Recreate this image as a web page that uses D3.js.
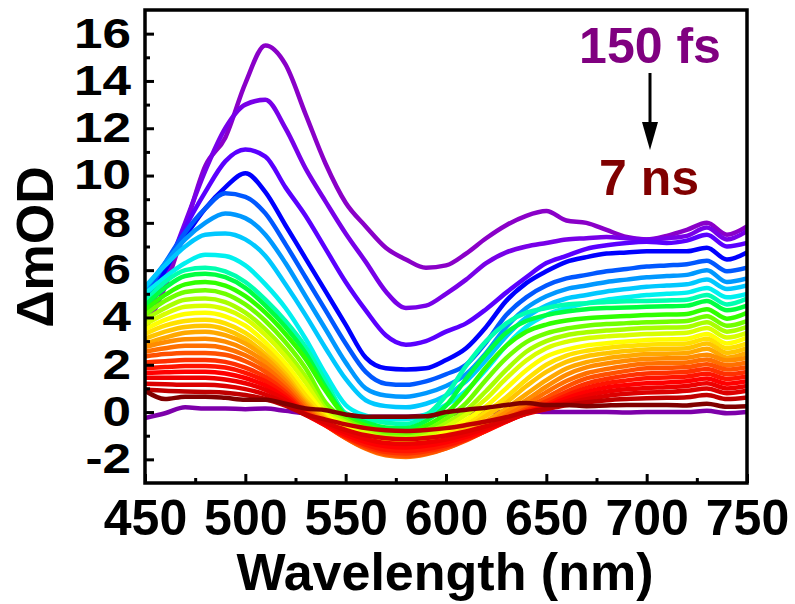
<!DOCTYPE html>
<html>
<head>
<meta charset="utf-8">
<script src="https://cdn.jsdelivr.net/npm/d3@7"></script>
<style>
  body { margin: 0; background: #fff; }
  svg { display: block; font-family: "Liberation Sans", Arial, sans-serif; font-weight: bold; }
</style>
</head>
<body>
<div id="chart"></div>
<script>
// probe wavelengths (nm), shared by every trace
var wavelengths = [450, 460, 470, 480, 490, 500, 510, 520, 530, 540, 550, 560, 570, 580, 590, 600,
                   610, 620, 630, 640, 650, 660, 670, 680, 690, 700, 710, 720, 730, 740, 750];

var xTicks = [450, 500, 550, 600, 650, 700, 750];
var xMinorTicks = [475, 525, 575, 625, 675, 725];
var yTicks = [-2, 0, 2, 4, 6, 8, 10, 12, 14, 16];
var yMinorTicks = [-1, 1, 3, 5, 7, 9, 11, 13, 15];
var firstDelay = "150 fs";
var lastDelay = "7 ns";

// ΔmOD traces, earliest (150 fs) to latest (7 ns); tracePre is the flat one near zero
var tracePre = [-0.25, -0.05, 0.2, 0.15, 0.15, 0.12, 0.15, 0.05, -0.05, -0.1, -0.15, -0.2, -0.2, -0.2, -0.15, -0.1, -0.05, 0.0, 0.0, 0.05, 0.0, 0.0, 0.0, 0.0, -0.02, 0.0, 0.0, 0.0, 0.05, -0.05, 0.0];
var trace01 = [3.5, 5.3, 7.8, 10.4, 11.6, 13.9, 15.5, 14.7, 12.6, 10.5, 8.85, 7.85, 6.95, 6.45, 6.1, 6.2, 6.7, 7.35, 7.9, 8.3, 8.5, 8.1, 8.0, 7.7, 7.4, 7.3, 7.45, 7.7, 8.0, 7.5, 7.85];
var trace02 = [3.9, 5.8, 8.0, 10.2, 12.0, 13.0, 13.2, 12.0, 10.3, 8.9, 7.55, 6.35, 5.1, 4.4, 4.5, 5.0, 5.6, 6.3, 6.75, 7.0, 7.15, 7.3, 7.35, 7.4, 7.35, 7.3, 7.35, 7.45, 7.8, 7.3, 7.65];
var trace03 = [4.2, 6.0, 7.8, 9.3, 10.6, 11.1, 10.8, 9.5, 8.3, 6.9, 5.5, 4.3, 3.25, 2.85, 3.0, 3.4, 3.75, 4.35, 5.05, 5.7, 6.3, 6.6, 6.9, 7.05, 7.15, 7.2, 7.15, 7.25, 7.5, 7.0, 7.15];
var trace04 = [4.5, 6.0, 7.4, 8.6, 9.5, 10.1, 9.3, 7.9, 6.5, 5.1, 3.7, 2.3, 1.85, 1.8, 1.85, 2.2, 2.7, 3.6, 4.7, 5.45, 5.95, 6.35, 6.55, 6.7, 6.75, 6.8, 6.8, 6.8, 6.95, 6.45, 6.75];
var trace05 = [4.9, 6.3, 7.6, 8.6, 9.25, 9.1, 8.4, 7.1, 5.7, 4.3, 2.9, 1.7, 1.2, 1.15, 1.3, 1.6, 2.0, 2.95, 4.1, 4.85, 5.35, 5.65, 5.8, 5.95, 6.05, 6.15, 6.2, 6.25, 6.4, 5.95, 6.1];
var trace06 = [5.2, 6.3, 7.3, 8.0, 8.4, 8.2, 7.5, 6.3, 4.9, 3.5, 2.1, 1.0, 0.7, 0.65, 0.8, 1.1, 1.6, 2.5, 3.6, 4.4, 4.9, 5.2, 5.35, 5.5, 5.6, 5.7, 5.75, 5.8, 6.0, 5.5, 5.65];
var trace07 = [5.3, 6.2, 7.0, 7.5, 7.55, 7.3, 6.6, 5.4, 4.1, 2.7, 1.4, 0.5, 0.25, 0.2, 0.35, 0.7, 1.3, 2.2, 3.2, 4.0, 4.5, 4.8, 4.95, 5.1, 5.2, 5.3, 5.35, 5.4, 5.6, 5.2, 5.35];
var trace08 = [5.0, 5.7, 6.3, 6.65, 6.6, 6.2, 5.4, 4.4, 3.1, 1.6, 0.3, -0.15, -0.3, -0.3, -0.1, 0.3, 0.9, 1.8, 2.8, 3.6, 4.1, 4.4, 4.6, 4.75, 4.85, 4.95, 5.0, 5.05, 5.25, 4.85, 5.0];
var trace09 = [4.7, 5.5, 6.0, 6.1, 5.95, 5.5, 4.75, 3.85, 2.75, 1.3, -0.05, -0.3, -0.45, -0.5, -0.15, 0.7, 1.95, 3.0, 3.75, 4.2, 4.4, 4.55, 4.6, 4.65, 4.68, 4.7, 4.72, 4.75, 4.95, 4.55, 4.8];
var trace10 = [4.5, 5.25, 5.75, 5.85, 5.7, 5.25, 4.5, 3.6, 2.5, 1.05, -0.14, -0.44, -0.65, -0.69, -0.38, 0.27, 1.4, 2.45, 3.35, 3.85, 4.1, 4.25, 4.35, 4.4, 4.42, 4.45, 4.47, 4.5, 4.7, 4.3, 4.5];
var trace11 = [4.3, 4.95, 5.4, 5.5, 5.35, 4.9, 4.2, 3.3, 2.25, 0.9, -0.2, -0.56, -0.79, -0.84, -0.58, -0.06, 0.82, 1.9, 2.8, 3.4, 3.7, 3.87, 3.97, 4.02, 4.06, 4.1, 4.12, 4.15, 4.35, 3.95, 4.2];
var trace12 = [4.1, 4.7, 5.08, 5.15, 5.0, 4.55, 3.85, 2.95, 1.85, 0.4, -0.31, -0.69, -0.94, -0.99, -0.77, -0.29, 0.38, 1.37, 2.28, 2.96, 3.33, 3.53, 3.65, 3.72, 3.76, 3.8, 3.82, 3.85, 4.05, 3.65, 3.85];
var trace13 = [3.9, 4.4, 4.75, 4.8, 4.65, 4.2, 3.5, 2.6, 1.5, 0.15, -0.41, -0.8, -1.04, -1.09, -0.9, -0.48, 0.07, 0.89, 1.78, 2.55, 3.0, 3.25, 3.37, 3.45, 3.5, 3.55, 3.57, 3.6, 3.8, 3.4, 3.6];
var trace14 = [3.7, 4.15, 4.45, 4.5, 4.35, 3.95, 3.25, 2.35, 1.25, 0.0, -0.48, -0.88, -1.14, -1.2, -1.02, -0.63, -0.11, 0.56, 1.42, 2.18, 2.7, 2.97, 3.12, 3.2, 3.25, 3.3, 3.32, 3.35, 3.55, 3.15, 3.35];
var trace15 = [3.5, 3.9, 4.15, 4.2, 4.05, 3.65, 2.95, 2.05, 0.95, -0.11, -0.61, -1.03, -1.28, -1.35, -1.19, -0.83, -0.33, 0.24, 1.0, 1.77, 2.35, 2.64, 2.82, 2.91, 2.98, 3.05, 3.07, 3.1, 3.3, 2.9, 3.15];
var trace16 = [3.3, 3.65, 3.85, 3.9, 3.75, 3.35, 2.7, 1.8, 0.7, -0.22, -0.73, -1.13, -1.38, -1.45, -1.31, -0.99, -0.53, 0.0, 0.63, 1.37, 2.0, 2.39, 2.59, 2.71, 2.79, 2.85, 2.87, 2.9, 3.1, 2.7, 2.9];
var trace17 = [3.1, 3.4, 3.6, 3.65, 3.5, 3.1, 2.45, 1.6, 0.5, -0.28, -0.81, -1.23, -1.48, -1.55, -1.42, -1.11, -0.68, -0.16, 0.4, 1.09, 1.7, 2.12, 2.36, 2.49, 2.58, 2.65, 2.67, 2.7, 2.9, 2.5, 2.7];
var trace18 = [2.9, 3.15, 3.35, 3.4, 3.25, 2.9, 2.3, 1.45, 0.4, -0.36, -0.92, -1.36, -1.63, -1.7, -1.58, -1.29, -0.88, -0.38, 0.15, 0.76, 1.35, 1.84, 2.11, 2.27, 2.37, 2.45, 2.47, 2.5, 2.68, 2.3, 2.5];
var trace19 = [2.75, 2.95, 3.08, 3.1, 2.98, 2.65, 2.1, 1.3, 0.3, -0.45, -1.03, -1.5, -1.78, -1.85, -1.73, -1.46, -1.05, -0.55, 0.0, 0.5, 1.08, 1.58, 1.89, 2.05, 2.17, 2.25, 2.27, 2.3, 2.42, 2.18, 2.3];
var trace20 = [2.55, 2.7, 2.8, 2.8, 2.7, 2.4, 1.9, 1.15, 0.2, -0.51, -1.1, -1.55, -1.83, -1.9, -1.79, -1.54, -1.16, -0.69, -0.16, 0.31, 0.84, 1.31, 1.64, 1.82, 1.95, 2.05, 2.07, 2.1, 2.22, 1.98, 2.1];
var trace21 = [2.35, 2.45, 2.5, 2.5, 2.42, 2.15, 1.7, 1.0, 0.1, -0.55, -1.1, -1.52, -1.78, -1.85, -1.75, -1.53, -1.2, -0.78, -0.3, 0.15, 0.61, 1.07, 1.42, 1.6, 1.74, 1.85, 1.87, 1.9, 2.02, 1.8, 1.9];
var trace22 = [2.1, 2.15, 2.2, 2.2, 2.12, 1.88, 1.48, 0.85, 0.0, -0.56, -1.07, -1.45, -1.69, -1.75, -1.66, -1.47, -1.17, -0.79, -0.36, 0.07, 0.45, 0.86, 1.2, 1.4, 1.54, 1.63, 1.66, 1.7, 1.82, 1.6, 1.7];
var trace23 = [1.85, 1.9, 1.95, 1.95, 1.88, 1.66, 1.3, 0.72, -0.05, -0.57, -1.03, -1.38, -1.6, -1.65, -1.57, -1.4, -1.14, -0.8, -0.41, 0.0, 0.32, 0.7, 1.02, 1.22, 1.34, 1.43, 1.46, 1.5, 1.62, 1.4, 1.5];
var trace24 = [1.65, 1.68, 1.7, 1.7, 1.63, 1.44, 1.12, 0.6, -0.1, -0.55, -0.96, -1.27, -1.45, -1.5, -1.43, -1.28, -1.05, -0.75, -0.4, -0.04, 0.25, 0.58, 0.85, 1.04, 1.14, 1.22, 1.25, 1.3, 1.42, 1.2, 1.3];
var trace25 = [1.45, 1.45, 1.45, 1.45, 1.38, 1.22, 0.94, 0.5, -0.1, -0.5, -0.86, -1.14, -1.31, -1.35, -1.29, -1.16, -0.95, -0.69, -0.39, -0.07, 0.18, 0.45, 0.69, 0.86, 0.96, 1.02, 1.05, 1.1, 1.22, 1.0, 1.1];
var trace26 = [1.2, 1.18, 1.15, 1.15, 1.1, 0.97, 0.74, 0.38, -0.12, -0.45, -0.75, -0.98, -1.11, -1.15, -1.1, -0.99, -0.82, -0.6, -0.35, -0.08, 0.13, 0.35, 0.54, 0.68, 0.77, 0.83, 0.85, 0.9, 1.0, 0.8, 0.9];
var trace27 = [0.95, 0.9, 0.87, 0.85, 0.82, 0.72, 0.55, 0.27, -0.1, -0.32, -0.52, -0.68, -0.77, -0.8, -0.76, -0.68, -0.55, -0.4, -0.22, 0.0, 0.14, 0.29, 0.41, 0.5, 0.55, 0.58, 0.6, 0.63, 0.72, 0.55, 0.62];
var trace28 = [0.9, 0.55, 0.65, 0.65, 0.6, 0.52, 0.52, 0.35, 0.15, 0.08, -0.1, -0.2, -0.2, -0.2, -0.18, 0.0, 0.1, 0.18, 0.3, 0.38, 0.3, 0.3, 0.25, 0.28, 0.3, 0.3, 0.3, 0.28, 0.35, 0.22, 0.25];

var traces = [trace01, trace02, trace03, trace04, trace05, trace06, trace07, trace08, trace09, trace10,
              trace11, trace12, trace13, trace14, trace15, trace16, trace17, trace18, trace19, trace20,
              trace21, trace22, trace23, trace24, trace25, trace26, trace27, trace28];

var rainbow = ["#8a00c8", "#7800e8", "#5a00ff", "#0000ff", "#0058ff", "#0098ff", "#00c8ff", "#00f0f0",
               "#00ffb0", "#00ff40", "#30ff00", "#70ff00", "#a8ff00", "#d8ff00", "#ffff00", "#ffe000",
               "#ffc400", "#ffa800", "#ff8c00", "#ff7000", "#ff5000", "#ff3000", "#ff1400", "#ff0000",
               "#ee0000", "#dd0000", "#c00000", "#800000"];

var svgWidth = 795, svgHeight = 604;
var plot = { left: 145, right: 747, top: 10, bottom: 483 };

var svg = d3.select("#chart").append("svg")
    .attr("width", svgWidth)
    .attr("height", svgHeight);

var x = d3.scaleLinear().domain([450, 750]).range([plot.left, plot.right]);
var y = d3.scaleLinear().domain([-3, 17]).range([plot.bottom, plot.top]);
var color = d3.scaleOrdinal().domain(d3.range(traces.length)).range(rainbow);

svg.append("clipPath").attr("id", "plotClip")
  .append("rect")
    .attr("x", plot.left).attr("y", plot.top)
    .attr("width", plot.right - plot.left).attr("height", plot.bottom - plot.top);

var line = d3.line()
    .x((d, i) => x(wavelengths[i]))
    .y(d => y(d))
    .curve(d3.curveMonotoneX);

var curves = svg.append("g").attr("clip-path", "url(#plotClip)")
    .attr("fill", "none")
    .attr("stroke-width", 4.5)
    .attr("stroke-linejoin", "round")
    .attr("stroke-linecap", "round");

curves.append("path")
    .datum(tracePre)
    .attr("stroke", "#7d00aa")
    .attr("d", line);

curves.selectAll("path.trace")
    .data(traces)
  .enter().append("path")
    .attr("class", "trace")
    .attr("stroke", (d, i) => color(i))
    .attr("d", line);

// axes: ticks point inward, no domain line (frame is drawn separately)
function styleAxis(g) {
  g.select(".domain").remove();
  g.attr("font-family", null).attr("font-size", 50).attr("font-weight", "bold");
  g.selectAll("line").attr("stroke-width", 3);
}

svg.append("g")
    .attr("transform", "translate(0," + plot.bottom + ")")
    .call(d3.axisBottom(x).tickValues(xTicks).tickSize(-9).tickPadding(16).tickFormat(d => String(d)))
    .call(styleAxis);

svg.append("g")
    .attr("transform", "translate(0," + plot.bottom + ")")
    .call(d3.axisBottom(x).tickValues(xMinorTicks).tickSize(-5).tickFormat(""))
    .call(styleAxis);

// y labels are drawn a little wide, as in the original
svg.append("g")
    .attr("transform", "translate(" + plot.left + ",0)")
    .call(d3.axisLeft(y).tickValues(yTicks).tickSize(-9).tickPadding(14).tickFormat(d => String(d)))
    .call(styleAxis)
    .call(g => g.selectAll("text")
        .attr("font-size", 42)
        .attr("x", -14 / 1.22)
        .attr("transform", "scale(1.22,1)"));

svg.append("g")
    .attr("transform", "translate(" + plot.left + ",0)")
    .call(d3.axisLeft(y).tickValues(yMinorTicks).tickSize(-5).tickFormat(""))
    .call(styleAxis);

svg.append("rect")
    .attr("x", plot.left).attr("y", plot.top)
    .attr("width", plot.right - plot.left).attr("height", plot.bottom - plot.top)
    .attr("fill", "none")
    .attr("stroke", "#000")
    .attr("stroke-width", 3.5);

// axis titles
svg.append("text")
    .attr("x", 445).attr("y", 590)
    .attr("text-anchor", "middle")
    .attr("font-size", 52)
    .text("Wavelength (nm)");

svg.append("text")
    .attr("transform", "translate(53,247) rotate(-90)")
    .attr("text-anchor", "middle")
    .attr("font-size", 52)
    .text("ΔmOD");

// time-evolution annotation
svg.append("text")
    .attr("x", 650).attr("y", 63)
    .attr("text-anchor", "middle")
    .attr("font-size", 50)
    .attr("fill", "#800080")
    .text(firstDelay);

svg.append("line")
    .attr("x1", 650).attr("x2", 650)
    .attr("y1", 73).attr("y2", 126)
    .attr("stroke", "#000")
    .attr("stroke-width", 3);

svg.append("path")
    .attr("d", "M642,122L658,122L650,150Z")
    .attr("fill", "#000");

svg.append("text")
    .attr("x", 649).attr("y", 195)
    .attr("text-anchor", "middle")
    .attr("font-size", 50)
    .attr("fill", "#800000")
    .text(lastDelay);
</script>
</body>
</html>
